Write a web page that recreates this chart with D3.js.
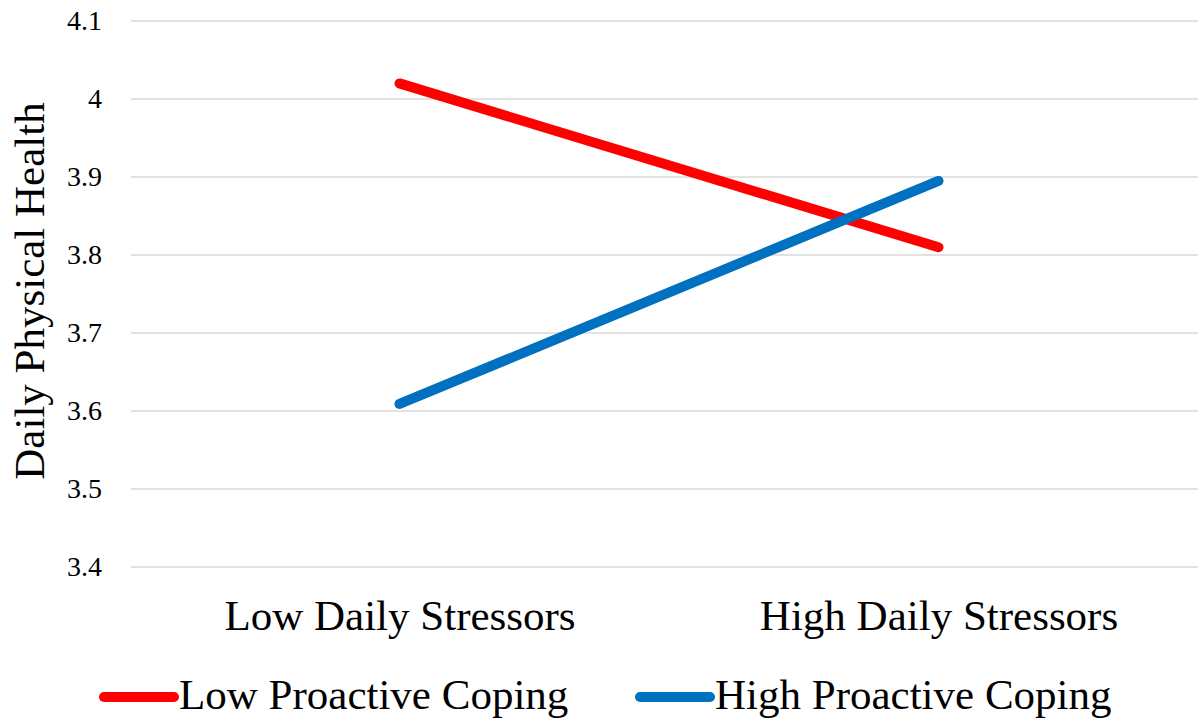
<!DOCTYPE html>
<html>
<head>
<meta charset="utf-8">
<script src="https://cdn.jsdelivr.net/npm/d3@7"></script>
<style>
  body { margin: 0; background: #fff; }
  text { font-family: "Liberation Serif", "Times New Roman", serif; fill: #000; }
</style>
</head>
<body>
<div id="chart"></div>
<script>
const categories = ["Low Daily Stressors", "High Daily Stressors"];
const seriesNames = ["Low Proactive Coping", "High Proactive Coping"];
const lowCoping = [4.02, 3.81];
const highCoping = [3.609, 3.895];
const yTicks = [3.4, 3.5, 3.6, 3.7, 3.8, 3.9, 4.0, 4.1];
const colors = ["#ff0000", "#0070c0"];

const width = 1198, height = 719;
const serif = "Liberation Serif";

const svg = d3.select("#chart").append("svg")
    .attr("width", width)
    .attr("height", height)
    .attr("font-family", serif);

const x = d3.scalePoint()
    .domain(categories)
    .range([130, 1208])
    .padding(0.5);

const y = d3.scaleLinear()
    .domain([3.4, 4.1])
    .range([567, 21]);

// gridlines
svg.append("g")
    .selectAll("line")
    .data(yTicks)
    .join("line")
    .attr("x1", 131)
    .attr("x2", width)
    .attr("y1", d => y(d))
    .attr("y2", d => y(d))
    .attr("stroke", "#d9d9d9")
    .attr("stroke-width", 1.5);

// y axis
const yAxis = d3.axisLeft(y)
    .tickValues(yTicks)
    .tickSize(0)
    .tickPadding(0)
    .tickFormat(d => String(+d.toFixed(1)));

const yAxisGroup = svg.append("g")
    .attr("transform", "translate(102,0)")
    .call(yAxis)
    .attr("font-family", serif)
    .attr("font-size", 28);
yAxisGroup.select(".domain").remove();
yAxisGroup.selectAll("text")
    .attr("font-family", serif)
    .attr("font-size", 28)
    .attr("fill", "#000");

// x axis
const xAxisGroup = svg.append("g")
    .attr("transform", "translate(0,630)")
    .call(d3.axisBottom(x).tickSize(0).tickPadding(0))
    .attr("font-family", serif)
    .attr("font-size", 43);
xAxisGroup.select(".domain").remove();
xAxisGroup.selectAll("text")
    .attr("fill", "#000")
    .attr("y", 0)
    .attr("dy", 0);

// y title
svg.append("text")
    .attr("transform", "translate(44,291) rotate(-90)")
    .attr("text-anchor", "middle")
    .attr("font-size", 43)
    .text("Daily Physical Health");

// lines
const series = [lowCoping, highCoping];
const line = d3.line()
    .x((d, i) => x(categories[i]))
    .y(d => y(d));

svg.append("g")
    .selectAll("path")
    .data(series)
    .join("path")
    .attr("d", line)
    .attr("fill", "none")
    .attr("stroke", (d, i) => colors[i])
    .attr("stroke-width", 10)
    .attr("stroke-linecap", "round");

// legend
const legendX = [104, 640];
const legend = svg.append("g")
    .selectAll("g")
    .data(seriesNames)
    .join("g")
    .attr("transform", (d, i) => "translate(" + legendX[i] + ",697)");

legend.append("line")
    .attr("x1", 0)
    .attr("x2", 70)
    .attr("stroke", (d, i) => colors[i])
    .attr("stroke-width", 10)
    .attr("stroke-linecap", "round");

legend.append("text")
    .attr("x", 75)
    .attr("y", 12)
    .attr("font-size", 43)
    .text(d => d);
</script>
</body>
</html>
